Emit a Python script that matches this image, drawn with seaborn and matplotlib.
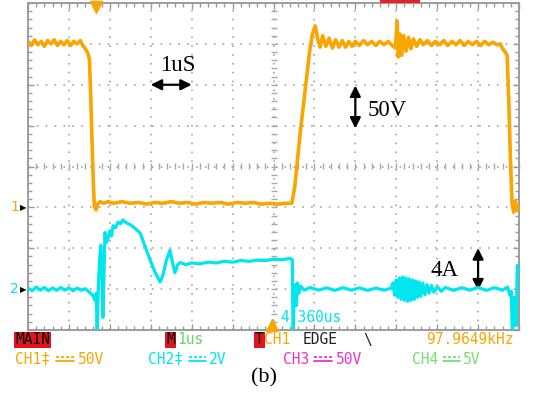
import numpy as np
import pandas as pd
import matplotlib
matplotlib.use("Agg")
import matplotlib.pyplot as plt
import seaborn as sns
from matplotlib.ticker import MultipleLocator
from matplotlib.patches import Rectangle
from matplotlib.lines import Line2D

# ---------------- data (time in us, CH1 in V, CH2 in V) ----------------
ch1_t = [0.00, 0.08, 0.16, 0.24, 0.32, 0.40, 0.48, 0.56, 0.64, 0.72, 0.80, 0.88, 0.96, 1.04, 1.12, 1.20, 1.28,
         1.34, 1.40, 1.46, 1.50, 1.53, 1.56, 1.59, 1.62, 1.66, 1.70, 1.76, 1.85, 1.95,
         2.10, 2.30, 2.50, 2.70, 2.90, 3.10, 3.30, 3.50, 3.70, 3.90, 4.10, 4.30, 4.50, 4.70, 4.90, 5.10, 5.30, 5.50,
         5.70, 5.90, 6.10, 6.30, 6.45,
         6.52, 6.58, 6.65, 6.72, 6.80, 6.88, 6.95, 7.02, 7.08, 7.14, 7.20, 7.28, 7.36, 7.44, 7.52, 7.60, 7.68, 7.76,
         7.84, 7.92, 8.00, 8.10, 8.20, 8.30, 8.40, 8.50, 8.60, 8.70, 8.80, 8.90, 8.98,
         9.02, 9.05, 9.09, 9.13, 9.18, 9.24, 9.30, 9.36, 9.42, 9.50, 9.58, 9.66, 9.76, 9.86, 9.96,
         10.06, 10.16, 10.26, 10.36, 10.46, 10.56, 10.66, 10.76, 10.86, 10.96, 11.06, 11.16, 11.26, 11.36, 11.46,
         11.54, 11.60, 11.66, 11.71, 11.75, 11.79, 11.83, 11.87, 11.91, 11.95, 12.00]
ch1_v = [203, 198, 205, 199, 203, 197, 204, 200, 205, 198, 203, 199, 204, 198, 203, 200, 204,
         198, 194, 189, 182, 140, 90, 40, 2, -3, 4, 7, 5, 7,
         5, 7, 5, 6, 4, 6, 5, 7, 5, 6, 4, 6, 5, 6, 4, 6, 5, 6,
         4, 5, 4, 5, 5,
         25, 55, 90, 120, 155, 190, 212, 222, 206, 196, 210, 197, 207, 195, 205, 196, 204, 196,
         203, 197, 203, 198, 204, 199, 203, 198, 203, 199, 203, 198, 195,
         228, 184, 212, 186, 210, 191, 208, 194, 206, 197, 205, 199, 204, 198, 203,
         199, 204, 198, 203, 199, 204, 198, 203, 199, 203, 198, 203, 199, 202, 199,
         200, 194, 190, 186, 130, 60, 5, -6, 8, -4, 3]

ch2_t = [0.00, 0.10, 0.20, 0.30, 0.40, 0.50, 0.60, 0.70, 0.80, 0.90, 1.00, 1.10, 1.20, 1.30, 1.40, 1.50, 1.58,
         1.64, 1.67, 1.69, 1.72, 1.76, 1.78, 1.80, 1.83, 1.86, 1.88, 1.92, 1.96, 2.00, 2.04, 2.08, 2.14, 2.20,
         2.26, 2.32, 2.40, 2.50, 2.60, 2.74, 2.86, 2.98, 3.10, 3.23, 3.30, 3.38, 3.47, 3.53, 3.59, 3.66, 3.72,
         3.85, 4.00, 4.20, 4.40, 4.60, 4.80, 5.00, 5.20, 5.40, 5.60, 5.80, 6.00, 6.20, 6.40, 6.46,
         6.48, 6.50, 6.53, 6.56, 6.58, 6.62, 6.66, 6.75, 6.90, 7.10, 7.30, 7.50, 7.70, 7.90, 8.10, 8.30, 8.50,
         8.70, 8.88,
         8.92, 8.96, 9.00, 9.04, 9.08, 9.12, 9.16, 9.20, 9.24, 9.28, 9.32, 9.36, 9.40, 9.44, 9.48, 9.52, 9.56,
         9.60, 9.65, 9.70, 9.75, 9.80, 9.86, 9.92, 10.00, 10.10,
         10.20, 10.40, 10.60, 10.80, 11.00, 11.20, 11.40, 11.60, 11.72, 11.78, 11.81, 11.84, 11.88, 11.93,
         11.96, 12.00]
ch2_v = [0.05, -0.08, 0.10, -0.05, 0.08, -0.08, 0.06, -0.06, 0.08, -0.05, 0.06, -0.08, 0.05, -0.05, 0.02, -0.15, -0.30,
         -0.55, -0.20, -2.30, 0.20, 1.75, 2.14, 1.20, -1.38, 1.00, 2.77, 2.30, 2.50, 2.85, 2.60, 3.10, 3.00, 3.28,
         3.20, 3.38, 3.25, 3.15, 3.00, 2.75, 2.10, 1.45, 0.85, 0.35, 0.70, 1.40, 1.90, 1.30, 0.80, 1.20, 1.30,
         1.20, 1.28, 1.24, 1.32, 1.28, 1.36, 1.32, 1.40, 1.36, 1.42, 1.40, 1.46, 1.44, 1.50, 1.45,
         -2.30, -0.60, 0.20, -0.80, 0.30, -0.20, 0.15, -0.05, 0.08, -0.05, 0.06, -0.06, 0.07, -0.05, 0.06, -0.06, 0.05,
         -0.05, 0.05,
         0.30, -0.30, 0.45, -0.40, 0.55, -0.50, 0.60, -0.55, 0.55, -0.60, 0.50, -0.55, 0.45, -0.50, 0.40, -0.40, 0.35,
         -0.35, 0.30, -0.28, 0.22, -0.20, 0.18, -0.15, 0.12, -0.10,
         0.08, -0.06, 0.07, -0.05, 0.08, -0.06, 0.07, -0.05, 0.10, -0.30, -0.10, -2.30, -0.40, -1.80,
         1.15, 0.90]

ch1_scale, ch1_offset = 50.0, -1.0   # V/div, marker position (div)
ch2_scale, ch2_offset = 2.0, -3.0
trigger_t = 1.66
hpos_t = 5.97

assert len(ch1_t) == len(ch1_v) and len(ch2_t) == len(ch2_v)

df1 = pd.DataFrame({"t": ch1_t, "div": [ch1_offset + v / ch1_scale for v in ch1_v]})
df2 = pd.DataFrame({"t": ch2_t, "div": [ch2_offset + v / ch2_scale for v in ch2_v]})

# ---------------- style ----------------
sns.set_style("white")
plt.rcParams["font.family"] = ["DejaVu Sans", "Noto Sans"]

YEL = "#f9a602"
CYN = "#00e6ef"
MAG = "#ee33cc"
GRN = "#77dd77"
W, H = 541, 400

fig = plt.figure(figsize=(W / 100, H / 100), dpi=100)
ax = fig.add_axes([28 / W, 1 - 330 / H, 491 / W, 327 / H])
ax.set_xlim(0, 12)
ax.set_ylim(-4, 4)

ax.set_xticks(range(0, 13))
ax.set_yticks(range(-4, 5))
ax.xaxis.set_minor_locator(MultipleLocator(0.2))
ax.yaxis.set_minor_locator(MultipleLocator(0.2))
ax.grid(True, which="major", color="#a9a9a9", linestyle=(0, (0.9, 4.0)), linewidth=1.3)
ax.tick_params(which="both", direction="in", top=True, right=True, bottom=True, left=True,
               labelbottom=False, labelleft=False, color="#9a9a9a", width=1.0)
ax.tick_params(which="major", length=4)
ax.tick_params(which="minor", length=3)
for s in ax.spines.values():
    s.set_color("#9c9c9c")
    s.set_linewidth(1.4)

# center cross with ticks
secx = ax.secondary_xaxis(0.5)
secx.set_xticks(range(0, 13))
secx.xaxis.set_minor_locator(MultipleLocator(0.2))
secx.tick_params(which="both", direction="inout", length=4, color="#a9a9a9", labelbottom=False,
                 labeltop=False, width=1.0)
secx.spines["bottom"].set_visible(False)
secx.spines["top"].set_visible(False)
secy = ax.secondary_yaxis(0.5)
secy.set_yticks(range(-4, 5))
secy.yaxis.set_minor_locator(MultipleLocator(0.2))
secy.tick_params(which="both", direction="inout", length=4, color="#a9a9a9", labelleft=False,
                 labelright=False, width=1.0)
secy.spines["left"].set_visible(False)
secy.spines["right"].set_visible(False)

mono = ["DejaVu Sans Mono", "DejaVu Sans"]

# cyan time readout (behind traces)
ax.text(6.16, -3.69, "4.360us", color=CYN, fontsize=10.5, family=mono,
        ha="left", va="center", zorder=2)

sns.lineplot(data=df1, x="t", y="div", ax=ax, sort=False, estimator=None, color=YEL, lw=2.6, zorder=4)
sns.lineplot(data=df2, x="t", y="div", ax=ax, sort=False, estimator=None, color=CYN, lw=2.3, zorder=5)
ax.set_xlabel("")
ax.set_ylabel("")

# trigger / position markers
ax.plot([trigger_t], [3.9], marker="v", ms=8, color=YEL, clip_on=False, zorder=6, ls="none")
ax.plot([hpos_t], [-3.88], marker="^", ms=8, color=YEL, clip_on=False, zorder=6, ls="none")

# channel ground markers
for lab, off, col in [("1", ch1_offset, YEL), ("2", ch2_offset, CYN)]:
    ax.annotate("▶", xy=(0, off), xytext=(-1, 0), textcoords="offset points", ha="right", va="center",
                fontsize=6, color="black", annotation_clip=False)
    ax.annotate(lab, xy=(0, off), xytext=(-6.5, 0), textcoords="offset points", ha="right", va="center",
                fontsize=10, color=col, annotation_clip=False)

# annotations
arrow = dict(arrowstyle="<|-|>", color="black", lw=1.6, mutation_scale=16, shrinkA=0, shrinkB=0)
ax.annotate("", xy=(4.0, 2.0), xytext=(3.0, 2.0), arrowprops=arrow)
ax.annotate("", xy=(8.0, 0.93), xytext=(8.0, 1.98), arrowprops=arrow)
ax.annotate("", xy=(11.0, -3.03), xytext=(11.0, -2.0), arrowprops=arrow)
serif = ["Liberation Serif", "DejaVu Serif"]
ax.text(3.23, 2.47, "1uS", fontsize=16.5, family=serif, ha="left", va="center", color="black")
ax.text(8.31, 1.37, "50V", fontsize=16.5, family=serif, ha="left", va="center", color="black")
ax.text(9.83, -2.54, "4A", fontsize=16.5, family=serif, ha="left", va="center", color="black")

# top-right partially cropped box
fig.patches.append(Rectangle((380 / W, 1 - 2.5 / H), 40 / W, 2.5 / H, transform=fig.transFigure,
                             facecolor="#e8202a", edgecolor="none"))

# status lines
fs = 10.5
RED = "#e3141b"
def ftxt(x, y, s, color, box=None):
    kw = dict(fontsize=fs, family=mono, color=color, ha="left", va="center")
    if box:
        kw["bbox"] = dict(facecolor=box, edgecolor="none", pad=0.6)
    fig.text(x / W, 1 - y / H, s, **kw)

def dc_symbol(x0, x1, y, color):
    # DC coupling symbol (no installed font has U+2393): dashed line over solid line
    fig.add_artist(Line2D([x0 / W, x1 / W], [1 - (y - 2.5) / H] * 2, transform=fig.transFigure,
                          color=color, lw=1.3, linestyle=(0, (1.6, 1.2))))
    fig.add_artist(Line2D([x0 / W, x1 / W], [1 - (y + 1.5) / H] * 2, transform=fig.transFigure,
                          color=color, lw=1.3))

y1, y2 = 340, 359
ftxt(15, y1, "MAIN", "black", RED)
ftxt(166, y1, "M", "black", RED)
ftxt(177, y1, "1us", "#66d466")
ftxt(255, y1, "T", "black", RED)
ftxt(264, y1, "CH1", YEL)
ftxt(303, y1, "EDGE", "#222222")
ftxt(363, y1, "\\", "#222222")
ftxt(426, y1, "97.9649kHz", YEL)

ftxt(15, y2, "CH1‡", YEL)
dc_symbol(56, 74, y2, YEL)
ftxt(78, y2, "50V", YEL)

ftxt(148, y2, "CH2‡", CYN)
dc_symbol(189, 206, y2, CYN)
ftxt(209, y2, "2V", CYN)

ftxt(283, y2, "CH3", MAG)
dc_symbol(314, 332, y2, MAG)
ftxt(336, y2, "50V", MAG)

ftxt(412, y2, "CH4", GRN)
dc_symbol(443, 460, y2, GRN)
ftxt(463, y2, "5V", GRN)

fig.text(264 / W, 1 - 378 / H, "(b)", fontsize=16, family=serif, ha="center", va="center", color="black")

fig.savefig("out.png", dpi=100)
